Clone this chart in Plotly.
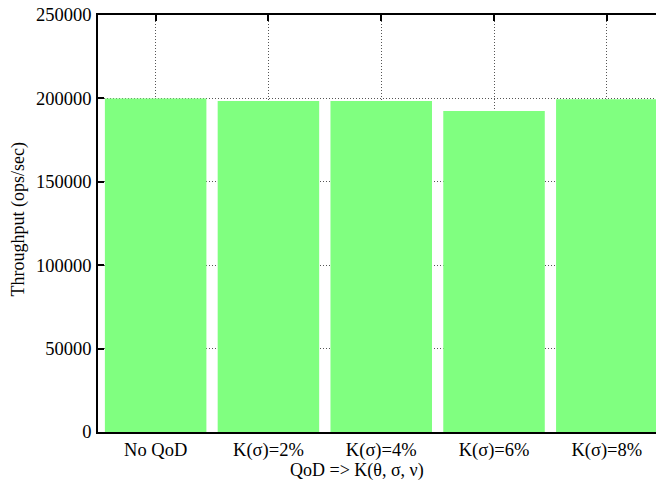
import plotly.graph_objects as go

# Throughput for each QoD setting
categories = ["No QoD", "K(σ)=2%", "K(σ)=4%", "K(σ)=6%", "K(σ)=8%"]
throughput = [200000, 198500, 198500, 192500, 199500]
y_ticks = [0, 50000, 100000, 150000, 200000, 250000]

FONT = "Liberation Serif"
GREEN = "#80ff80"
GRID = "#555555"
GRID_DASH = "1px,2px"

fig = go.Figure()
fig.add_trace(go.Bar(
    x=list(range(len(categories))),
    y=throughput,
    width=0.9,
    marker=dict(color=GREEN, line=dict(width=0)),
    showlegend=False,
    hoverinfo="skip",
))
# empty trace so the top axis carrying the mirrored ticks gets drawn
fig.add_trace(go.Scatter(x=[], y=[], xaxis="x2", showlegend=False))

x_range = [-0.511, 4.436]

fig.update_layout(
    width=656,
    height=480,
    margin=dict(l=98, r=0, t=15, b=48),
    paper_bgcolor="white",
    plot_bgcolor="white",
    font=dict(family=FONT, size=18, color="black"),
    xaxis=dict(
        range=x_range,
        tickvals=list(range(len(categories))),
        ticktext=categories,
        ticks="",
        ticklen=0,
        showgrid=True,
        gridcolor=GRID,
        griddash=GRID_DASH,
        gridwidth=1,
        showline=True,
        linecolor="black",
        linewidth=1.5,
        mirror=True,
        zeroline=False,
        ticklabelstandoff=0,
        tickfont=dict(family=FONT, size=18.5),
    ),
    xaxis2=dict(
        range=x_range,
        overlaying="x",
        side="top",
        tickvals=list(range(len(categories))),
        ticks="inside",
        ticklen=6,
        tickwidth=1.5,
        tickcolor="black",
        showticklabels=False,
        showgrid=False,
        showline=False,
        zeroline=False,
    ),
    yaxis=dict(
        range=[0, 250000],
        tickvals=y_ticks,
        ticktext=[str(v) for v in y_ticks],
        ticks="inside",
        ticklen=6,
        tickwidth=1.5,
        tickcolor="black",
        showgrid=True,
        gridcolor=GRID,
        griddash=GRID_DASH,
        gridwidth=1,
        showline=True,
        linecolor="black",
        linewidth=1.5,
        mirror=False,
        zeroline=False,
        ticklabelstandoff=1,
        tickfont=dict(family=FONT, size=18.5),
    ),
    annotations=[
        dict(
            text="Throughput (ops/sec)",
            xref="paper", yref="paper",
            x=-0.143, y=0.51,
            xanchor="center", yanchor="middle",
            textangle=-90,
            showarrow=False,
            font=dict(family=FONT, size=18),
        ),
        dict(
            text="QoD => K(θ, σ, ν)",
            xref="paper", yref="paper",
            x=0.464, y=-0.093,
            xanchor="center", yanchor="middle",
            showarrow=False,
            font=dict(family=FONT, size=18),
        ),
    ],
)

fig.write_html("out.html")
